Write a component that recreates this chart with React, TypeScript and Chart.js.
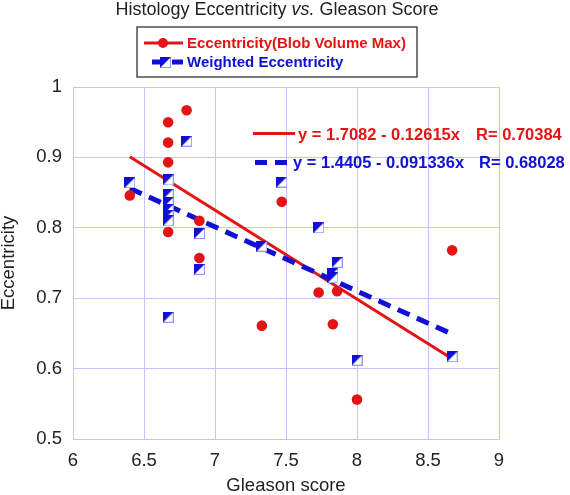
import React, { useEffect, useRef } from 'react';
import { Chart, registerables } from 'chart.js';

Chart.register(...registerables);

// ---- data ----
const blobX = [6.4, 6.67, 6.67, 6.67, 6.67, 6.8, 6.89, 6.89, 7.33, 7.47, 7.73, 7.83, 7.86, 8.0, 8.67];
const blobY = [0.846, 0.950, 0.921, 0.893, 0.794, 0.967, 0.810, 0.757, 0.661, 0.837, 0.708, 0.663, 0.710, 0.556, 0.768];

const weightedX = [6.4, 6.67, 6.67, 6.67, 6.67, 6.67, 6.67, 6.67, 6.8, 6.89, 6.89, 7.33, 7.47, 7.73, 7.83, 7.83, 7.86, 8.0, 8.67];
const weightedY = [0.864, 0.868, 0.848, 0.836, 0.826, 0.818, 0.810, 0.673, 0.923, 0.792, 0.741, 0.774, 0.865, 0.800, 0.735, 0.729, 0.751, 0.612, 0.617];

const blobFitX = [6.4, 8.67];
const blobFitY = [0.901, 0.614];
const weightedFitX = [6.4, 8.67];
const weightedFitY = [0.856, 0.649];

const xRange = [6, 9];
const yRange = [0.5, 1];
const xStep = 0.5;
const yStep = 0.1;

const titleParts = ['Histology Eccentricity ', 'vs.', ' Gleason Score'];
const xTitle = 'Gleason score';
const yTitle = 'Eccentricity';
const seriesNames = ['Eccentricity(Blob Volume Max)', 'Weighted Eccentricity'];
const fitEquations = ['y = 1.7082 - 0.12615x', 'y = 1.4405 - 0.091336x'];
const fitR = ['R= 0.70384', 'R= 0.68028'];

// ---- style ----
const RED = '#e41414';
const BLUE = '#1010d4';
const GRID = 'rgb(196,196,255)';
const TEXT = '#222';
const FONT = '"Liberation Sans", Arial, Helvetica, sans-serif';

const toPoints = (xs: number[], ys: number[]) => xs.map((x, i) => ({ x, y: ys[i] }));
const fmt = (v: any) => String(+Number(v).toFixed(2));

function makeSquare(): HTMLCanvasElement {
  const c = document.createElement('canvas');
  c.width = 11;
  c.height = 11;
  const g = c.getContext('2d')!;
  g.fillStyle = '#fff';
  g.fillRect(0, 0, 11, 11);
  g.strokeStyle = 'rgb(150,150,255)';
  g.lineWidth = 1;
  g.strokeRect(0.5, 0.5, 10, 10);
  g.fillStyle = BLUE;
  g.beginPath();
  g.moveTo(0, 0);
  g.lineTo(11, 0);
  g.lineTo(0, 11);
  g.closePath();
  g.fill();
  return c;
}

function drawDashed(ctx: CanvasRenderingContext2D, x1: number, x2: number, y: number) {
  ctx.save();
  ctx.strokeStyle = BLUE;
  ctx.lineWidth = 5;
  ctx.setLineDash([12, 8]);
  ctx.beginPath();
  ctx.moveTo(x1, y);
  ctx.lineTo(x2, y);
  ctx.stroke();
  ctx.restore();
}

function makeOverlay(square: HTMLCanvasElement) {
  return {
    id: 'overlay',
    afterDraw(chart: any) {
      const ctx: CanvasRenderingContext2D = chart.ctx;
      ctx.save();
      // title
      const fN = `18px ${FONT}`;
      const fI = `italic 18px ${FONT}`;
      const fonts = [fN, fI, fN];
      let total = 0;
      const widths = titleParts.map((t, i) => {
        ctx.font = fonts[i];
        const w = ctx.measureText(t).width;
        total += w;
        return w;
      });
      let tx = 277 - total / 2;
      ctx.fillStyle = TEXT;
      ctx.textBaseline = 'alphabetic';
      ctx.textAlign = 'left';
      titleParts.forEach((t, i) => {
        ctx.font = fonts[i];
        ctx.fillText(t, tx, 15);
        tx += widths[i];
      });

      // legend box
      ctx.fillStyle = '#fff';
      ctx.fillRect(137, 27, 280, 50);
      ctx.strokeStyle = '#333';
      ctx.lineWidth = 1.3;
      ctx.strokeRect(137, 27, 280, 50);

      // legend red
      ctx.strokeStyle = RED;
      ctx.lineWidth = 3;
      ctx.beginPath();
      ctx.moveTo(144, 43);
      ctx.lineTo(183, 43);
      ctx.stroke();
      ctx.fillStyle = RED;
      ctx.beginPath();
      ctx.arc(163, 43, 5, 0, Math.PI * 2);
      ctx.fill();
      // legend blue
      drawDashed(ctx, 152, 183, 62);
      ctx.drawImage(square, 160, 57);

      ctx.font = `bold 15px ${FONT}`;
      ctx.textBaseline = 'middle';
      ctx.fillStyle = RED;
      ctx.fillText(seriesNames[0], 187, 44);
      ctx.fillStyle = BLUE;
      ctx.fillText(seriesNames[1], 187, 63);

      // fit equations
      ctx.strokeStyle = RED;
      ctx.lineWidth = 3;
      ctx.beginPath();
      ctx.moveTo(253, 133.5);
      ctx.lineTo(295, 133.5);
      ctx.stroke();
      drawDashed(ctx, 255, 288, 162.5);

      ctx.font = `bold 16.5px ${FONT}`;
      ctx.fillStyle = RED;
      ctx.fillText(fitEquations[0], 298, 135);
      ctx.fillText(fitR[0], 476, 135);
      ctx.fillStyle = BLUE;
      ctx.fillText(fitEquations[1], 293, 163.5);
      ctx.fillText(fitR[1], 479, 163.5);
      ctx.restore();
    },
  };
}

export default function App() {
  const ref = useRef<HTMLCanvasElement | null>(null);
  useEffect(() => {
    if (!ref.current) return;
    const square = makeSquare();
    const chart = new Chart(ref.current, {
      type: 'scatter',
      data: {
        datasets: [
          {
            label: seriesNames[1],
            data: toPoints(weightedX, weightedY),
            pointStyle: square as any,
            pointRadius: 5,
            showLine: false,
          },
          {
            label: seriesNames[0],
            data: toPoints(blobX, blobY),
            pointStyle: 'circle',
            pointRadius: 5.3,
            pointBackgroundColor: RED,
            pointBorderWidth: 0,
            showLine: false,
          },
          {
            label: 'weighted fit',
            data: toPoints(weightedFitX, weightedFitY),
            showLine: true,
            pointRadius: 0,
            borderColor: BLUE,
            borderWidth: 5,
            borderDash: [13, 8],
            fill: false,
          },
          {
            label: 'blob fit',
            data: toPoints(blobFitX, blobFitY),
            showLine: true,
            pointRadius: 0,
            borderColor: RED,
            borderWidth: 3,
            fill: false,
          },
        ],
      },
      options: {
        animation: false,
        responsive: false,
        events: [],
        layout: { padding: { left: 0, right: 71, top: 87, bottom: 0 } },
        plugins: {
          legend: { display: false },
          title: { display: false },
          tooltip: { enabled: false },
        },
        scales: {
          x: {
            type: 'linear',
            min: xRange[0],
            max: xRange[1],
            afterFit: (s: any) => { s.height = 56; },
            grid: { color: GRID, lineWidth: 1, drawTicks: false },
            border: { color: GRID, width: 1 },
            ticks: {
              stepSize: xStep,
              padding: 11,
              color: TEXT,
              font: { family: FONT, size: 18.5 },
              callback: fmt,
            },
            title: {
              display: true,
              text: xTitle,
              color: TEXT,
              font: { family: FONT, size: 18.5, lineHeight: 1 },
              padding: 0,
            },
          },
          y: {
            type: 'linear',
            min: yRange[0],
            max: yRange[1],
            afterFit: (s: any) => { s.width = 73; },
            grid: { color: GRID, lineWidth: 1, drawTicks: false },
            border: { color: GRID, width: 1 },
            ticks: {
              stepSize: yStep,
              padding: 11,
              color: TEXT,
              font: { family: FONT, size: 18.5 },
              callback: fmt,
            },
            title: {
              display: true,
              text: yTitle,
              color: TEXT,
              font: { family: FONT, size: 18.5, lineHeight: 1 },
              padding: 0,
            },
          },
        },
      },
      plugins: [makeOverlay(square)],
    });
    return () => chart.destroy();
  }, []);

  return (
    <div style={{ position: 'absolute', left: 0, top: 0, width: 570, height: 495, background: '#fff' }}>
      <canvas ref={ref} width={570} height={495} />
    </div>
  );
}
